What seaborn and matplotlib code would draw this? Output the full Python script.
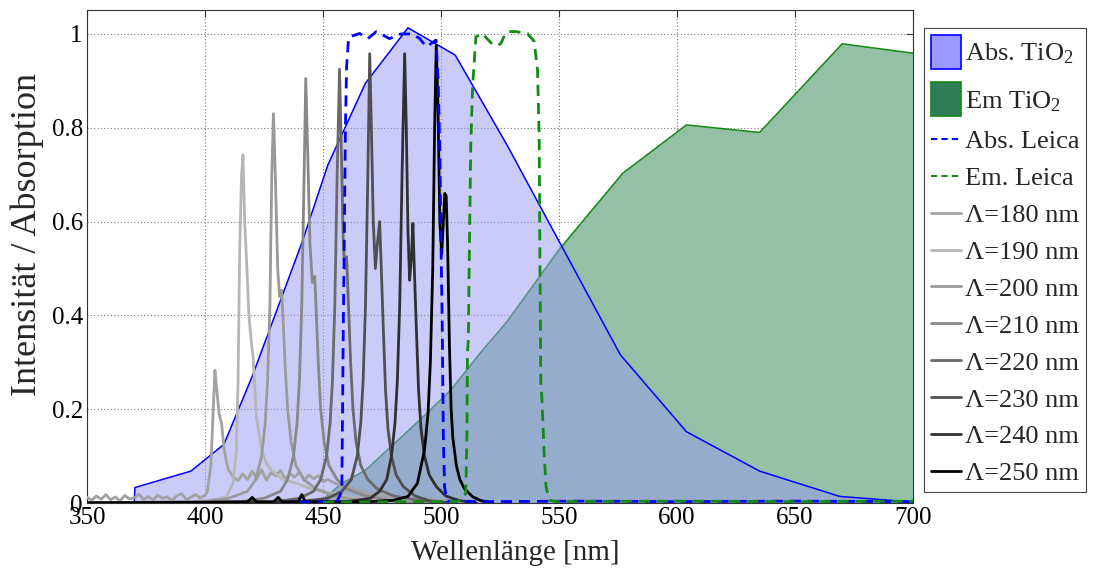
import numpy as np
import matplotlib
matplotlib.use("Agg")
import matplotlib.pyplot as plt
import seaborn as sns
from matplotlib.patches import Rectangle, Patch
from matplotlib.lines import Line2D
from matplotlib.legend_handler import HandlerPatch

# --- TiO2 absorption / emission ---
abs_nm = [370, 370.3, 394, 408, 420, 441, 452, 468, 486, 506, 528, 576, 604, 635, 669, 700]
abs_val = [0.0, 0.033, 0.068, 0.125, 0.27, 0.554, 0.72, 0.895, 1.013, 0.955, 0.763, 0.316, 0.152, 0.068, 0.014, 0.002]

em_nm = [451, 451.2, 458, 468, 491, 504, 516, 528, 550, 577, 604, 635, 670, 700]
em_val = [0.0, 0.013, 0.042, 0.07, 0.177, 0.24, 0.316, 0.387, 0.54, 0.703, 0.806, 0.790, 0.979, 0.959]

# --- Leica filter curves ---
abs_leica_nm = [440, 450, 456, 457.5, 458, 458.3, 458.5, 459, 459.5, 460, 460.8, 462, 465.5, 469,
                472.6, 478.2, 483.1, 488, 491, 493.7, 496, 497.9, 498.8, 499.5, 500, 500.5, 501,
                501.5, 502.5, 520, 560, 600, 650, 700]
abs_leica_val = [0.002, 0.003, 0.004, 0.02, 0.04, 0.2, 0.33, 0.55, 0.8, 0.93, 0.99, 0.995, 1.001, 0.99,
                 1.005, 0.99, 1.0, 1.0, 0.99, 0.973, 0.98, 0.987, 0.9, 0.75, 0.55, 0.39, 0.14,
                 0.035, 0.004, 0.003, 0.004, 0.003, 0.004, 0.003]

em_leica_nm = [450, 505, 508.4, 510.5, 511, 511.2, 511.6, 511.9, 512.6, 513.4, 514.8, 517.6, 519.5,
               521.8, 524, 525.4, 527, 528.9, 531.7, 534, 536.6, 539.5, 540.9, 541.6, 541.9, 542.3,
               542.8, 543.2, 543.7, 544.5, 545.9, 548.7, 600, 650, 700]
em_leica_val = [0.002, 0.003, 0.005, 0.021, 0.15, 0.32, 0.35, 0.49, 0.76, 0.888, 0.994, 1.001, 0.99,
                0.978, 0.975, 0.98, 0.998, 1.005, 1.005, 1.003, 1.001, 0.984, 0.923, 0.78, 0.53, 0.255,
                0.22, 0.17, 0.107, 0.035, 0.006, 0.003, 0.004, 0.003, 0.004]

# --- excitation spectra, Lambda = 180 ... 250 nm ---
lam_labels = ["Λ=180 nm", "Λ=190 nm", "Λ=200 nm", "Λ=210 nm",
              "Λ=220 nm", "Λ=230 nm", "Λ=240 nm", "Λ=250 nm"]
lam_colors = ["#a2a2a2", "#b6b6b6", "#9a9a9a", "#888888",
              "#6a6a6a", "#505050", "#303030", "#000000"]

l180_nm = [350, 352, 354, 356, 358, 360, 362, 364, 366, 368, 370, 372, 374, 376, 378, 380, 382, 384,
           386, 388, 390, 392, 394, 396, 398, 400, 401, 402.5, 403.5, 404.2, 405, 406, 407, 408, 409,
           410, 412, 414, 416, 418, 420, 422, 424, 426, 428, 430, 432, 434, 436, 438, 440, 442, 444,
           446, 448, 450, 452, 456, 460, 465, 470, 480, 490, 500, 520]
l180_val = [0.012, 0.006, 0.015, 0.008, 0.018, 0.007, 0.013, 0.005, 0.016, 0.009, 0.011, 0.019, 0.007,
            0.014, 0.006, 0.017, 0.01, 0.013, 0.005, 0.015, 0.02, 0.008, 0.012, 0.018, 0.011, 0.016,
            0.025, 0.08, 0.2, 0.283, 0.24, 0.19, 0.17, 0.12, 0.09, 0.07, 0.055, 0.048, 0.062, 0.05,
            0.068, 0.052, 0.071, 0.049, 0.065, 0.058, 0.07, 0.05, 0.063, 0.055, 0.066, 0.048, 0.06,
            0.052, 0.058, 0.046, 0.05, 0.04, 0.035, 0.027, 0.02, 0.012, 0.008, 0.005, 0.0]

l190_nm = [350, 395, 405, 409, 411.9, 413.3, 414, 414.7, 415.5, 416.1, 416.8, 417.6, 418.6, 419.7,
           420.4, 421.8, 423.9, 426, 428.1, 433, 438.7, 445, 455, 465, 480, 495]
l190_val = [0.0, 0.003, 0.008, 0.013, 0.042, 0.113, 0.255, 0.54, 0.7, 0.742, 0.6, 0.518, 0.4, 0.34,
            0.31, 0.184, 0.113, 0.085, 0.07, 0.05, 0.042, 0.03, 0.02, 0.01, 0.004, 0.0]

l200_nm = [350, 400, 410, 418, 421.5, 424, 425.5, 426.5, 427.5, 428.3, 429, 429.8, 430.8, 431.6,
           432.4, 433.2, 434, 435, 436.5, 438.5, 442, 447, 455, 465, 480]
l200_val = [0.0, 0.003, 0.01, 0.025, 0.05, 0.1, 0.17, 0.26, 0.42, 0.7, 0.83, 0.7, 0.5, 0.44,
            0.454, 0.38, 0.29, 0.2, 0.13, 0.08, 0.05, 0.03, 0.015, 0.006, 0.0]

l210_nm = [350, 415, 425, 432, 435, 437.5, 439, 440, 441, 442, 442.7, 443.5, 444.5, 445.5, 446.5,
           447.2, 448, 449, 450.5, 452.5, 456, 460, 468, 478, 490]
l210_val = [0.0, 0.003, 0.01, 0.025, 0.05, 0.1, 0.17, 0.26, 0.42, 0.7, 0.905, 0.75, 0.55, 0.47, 0.483,
            0.4, 0.3, 0.2, 0.13, 0.08, 0.05, 0.03, 0.015, 0.006, 0.0]

l220_nm = [350, 430, 440, 446, 449, 451.5, 453, 454, 455, 456, 457, 457.8, 458.6, 459.3, 460,
           460.8, 461.7, 462.7, 464, 466, 469, 473, 480, 490, 500]
l220_val = [0.0, 0.003, 0.01, 0.025, 0.05, 0.1, 0.17, 0.26, 0.42, 0.7, 0.925, 0.75, 0.55, 0.5, 0.525,
            0.42, 0.3, 0.2, 0.13, 0.08, 0.05, 0.03, 0.015, 0.006, 0.0]

l230_nm = [350, 440, 452, 458, 462, 464.5, 466, 467, 468, 469, 469.8, 470.5, 471.3, 472.2, 473, 474,
           474.7, 475.5, 476.5, 477.5, 479, 481, 484, 489, 495, 505]
l230_val = [0.0, 0.003, 0.01, 0.025, 0.05, 0.1, 0.17, 0.26, 0.42, 0.7, 0.958, 0.8, 0.6, 0.5, 0.55, 0.6,
            0.5, 0.38, 0.24, 0.16, 0.1, 0.06, 0.035, 0.015, 0.005, 0.0]

l240_nm = [350, 460, 470, 474, 477, 479, 480.5, 481.5, 482.5, 483.5, 484.6, 485.3, 486, 486.7, 487.4,
           488.1, 488.7, 489.5, 490.5, 491.5, 493, 495, 498, 502, 508, 515]
l240_val = [0.0, 0.003, 0.01, 0.025, 0.05, 0.1, 0.17, 0.26, 0.42, 0.7, 0.958, 0.8, 0.58, 0.475, 0.52,
            0.596, 0.5, 0.38, 0.24, 0.16, 0.1, 0.06, 0.035, 0.015, 0.005, 0.0]

l250_nm = [350, 418, 420, 422, 429, 431, 433, 439.5, 441, 442.5, 460, 470, 480, 486, 490, 493, 494.5,
           495.5, 496.5, 497.3, 498, 498.7, 499.5, 500.3, 501, 501.6, 502.2, 502.8, 503.6, 504.3, 505,
           506.5, 508, 510, 513.5, 517, 522]
l250_val = [0.0, 0.002, 0.012, 0.002, 0.002, 0.012, 0.002, 0.003, 0.018, 0.003, 0.002, 0.003, 0.006,
            0.014, 0.042, 0.113, 0.19, 0.3, 0.5, 0.8, 0.975, 0.85, 0.6, 0.53, 0.6, 0.66, 0.655, 0.55,
            0.33, 0.2, 0.14, 0.08, 0.05, 0.03, 0.013, 0.005, 0.0]

lam_nm = [l180_nm, l190_nm, l200_nm, l210_nm, l220_nm, l230_nm, l240_nm, l250_nm]
lam_val = [l180_val, l190_val, l200_val, l210_val, l220_val, l230_val, l240_val, l250_val]

x_ticks = [350, 400, 450, 500, 550, 600, 650, 700]
y_ticks = [0, 0.2, 0.4, 0.6, 0.8, 1.0]
y_tick_labels = ["0", "0.2", "0.4", "0.6", "0.8", "1"]

sns.set_style("white")
plt.rcParams["font.family"] = ["Liberation Serif", "DejaVu Serif"]
plt.rcParams["mathtext.fontset"] = "custom"
plt.rcParams["mathtext.rm"] = "Liberation Serif"
plt.rcParams["mathtext.it"] = "Liberation Serif:italic"

fig = plt.figure(figsize=(10.93, 5.72), dpi=100)
ax = fig.add_axes([0.0796, 0.1206, 0.7557, 0.8619])

# emission first, absorption translucent on top
ax.fill_between(em_nm, em_val, 0, facecolor="#94c0a6", edgecolor="none", zorder=1)
ax.plot(em_nm, em_val, color="#138a13", lw=1.1, zorder=1.5)
ax.fill_between(abs_nm, abs_val, 0, facecolor="#9999f5", alpha=0.5, edgecolor="none", zorder=2)
ax.plot(abs_nm, abs_val, color="#0000ff", lw=1.1, zorder=2.5)

for xs, ys, c in zip(lam_nm, lam_val, lam_colors):
    sns.lineplot(x=xs, y=ys, ax=ax, color=c, lw=2, sort=False, estimator=None, zorder=3)

sns.lineplot(x=abs_leica_nm, y=abs_leica_val, ax=ax, color="#0000ff", lw=2, linestyle=(0, (4, 2.5)),
             sort=False, estimator=None, zorder=4)
sns.lineplot(x=em_leica_nm, y=em_leica_val, ax=ax, color="#138a13", lw=2, linestyle=(0, (4, 2.5)),
             sort=False, estimator=None, zorder=4)

ax.set_xlim(350, 700)
ax.set_ylim(0, 1.051)
ax.set_xticks(x_ticks)
ax.set_yticks(y_ticks)
ax.set_yticklabels(y_tick_labels)
ax.tick_params(direction="in", length=5, width=0.8, top=True, right=True, labelsize=18,
               colors="#333333", labelcolor="black", pad=3)
ax.grid(True, linestyle=(0, (1, 2)), color="#777777", lw=0.8)
for s in ax.spines.values():
    s.set_color("#333333")
    s.set_linewidth(0.8)
ax.set_xlabel("Wellenlänge [nm]", fontsize=21)
ax.set_ylabel("Intensität / Absorption", fontsize=26)
ax.xaxis.set_label_coords(0.518, -0.075)
ax.yaxis.set_label_coords(-0.052, 0.545)

handles = [Patch(facecolor="#9999ff", edgecolor="#0000ff", lw=1.2, label="Abs. TiO$_2$"),
           Patch(facecolor="#2e7d57", edgecolor="#138a13", lw=1.2, label="Em TiO$_2$"),
           Line2D([], [], color="#0000ff", lw=1.5, linestyle=(0, (3, 2)), label="Abs. Leica"),
           Line2D([], [], color="#138a13", lw=1.5, linestyle=(0, (3, 2)), label="Em. Leica")]
for lab, c in zip(lam_labels, lam_colors):
    handles.append(Line2D([], [], color=c, lw=2, label=lab))


class TallPatchHandler(HandlerPatch):
    # the filled swatches sit in taller rows than the line entries
    def legend_artist(self, legend, orig_handle, fontsize, handlebox):
        h = handlebox.height
        extra = 0.42 * h
        handlebox.height = h + 2 * extra
        handlebox.ydescent = handlebox.ydescent + extra
        p = Rectangle((-handlebox.xdescent, -handlebox.ydescent), handlebox.width, handlebox.height)
        self.update_prop(p, orig_handle, legend)
        p.set_transform(handlebox.get_transform())
        handlebox.add_artist(p)
        return p


leg = fig.legend(handles=handles, loc="upper left", bbox_to_anchor=(0.8454, 0.951), borderaxespad=0,
                 fontsize=19, frameon=True, fancybox=False, edgecolor="#444444", framealpha=1,
                 handlelength=1.15, handletextpad=0.15, borderpad=0.25, labelspacing=0.51,
                 handler_map={Patch: TallPatchHandler()})
leg.get_frame().set_linewidth(0.8)

fig.savefig("out.png", dpi=100)
